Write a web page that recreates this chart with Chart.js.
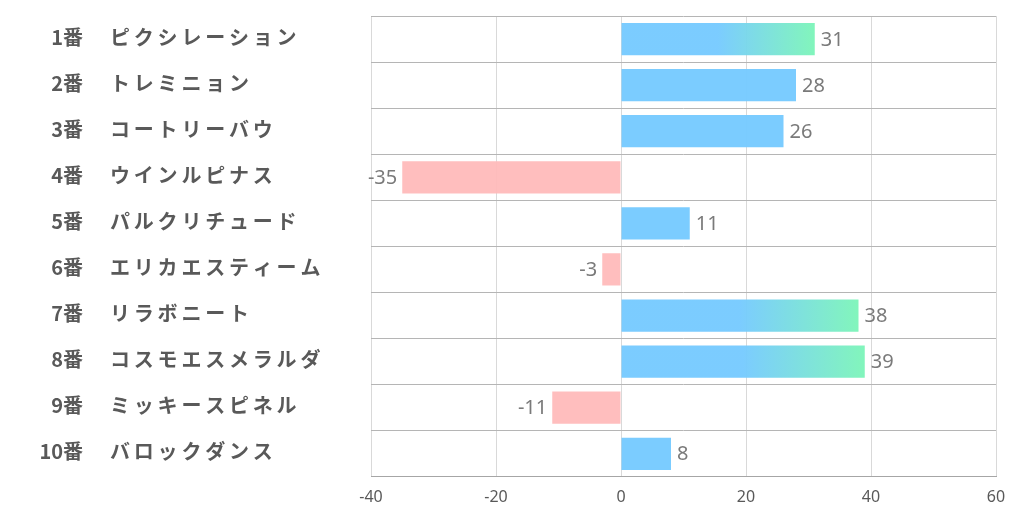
<!DOCTYPE html>
<html><head><meta charset="utf-8">
<script src="https://cdn.jsdelivr.net/npm/chart.js@4.4.1/dist/chart.umd.min.js"></script>
<style>html,body{margin:0;padding:0;background:#fff}#wrap{width:1022px;height:522px}</style>
</head><body><div id="wrap"><canvas id="c" width="1022" height="522"></canvas></div>
<script>
const numbers = ['1番','2番','3番','4番','5番','6番','7番','8番','9番','10番'];
const names = ['ピクシレーション','トレミニョン','コートリーバウ','ウインルピナス','パルクリチュード','エリカエスティーム','リラボニート','コスモエスメラルダ','ミッキースピネル','バロックダンス'];
const values = [31,28,26,-35,11,-3,38,39,-11,8];
const xTicks = [-40,-20,0,20,40,60];

const BLUE = 'rgba(118,202,255,0.96)';
const GREEN = 'rgba(125,245,185,0.96)';
const PINK = 'rgba(255,186,186,0.95)';

function barColor(ctx){
  const v = values[ctx.dataIndex];
  if (v < 0) return PINK;
  if (v < 30) return BLUE;
  const chart = ctx.chart;
  const xs = chart.scales.x;
  if (!chart.chartArea || !xs) return BLUE;
  const x0 = xs.getPixelForValue(v*0.5);
  const x1 = xs.getPixelForValue(v);
  const g = chart.ctx.createLinearGradient(x0,0,x1,0);
  g.addColorStop(0,BLUE);
  g.addColorStop(1,GREEN);
  return g;
}

const labelPlugin = {
  id:'labels',
  afterDatasetsDraw(chart){
    const ctx = chart.ctx;
    const meta = chart.getDatasetMeta(0);
    ctx.save();
    ctx.font = '20px "Noto Sans", "Open Sans", sans-serif';
    ctx.fillStyle = '#7a7a7a';
    ctx.textBaseline = 'middle';
    meta.data.forEach((el,i)=>{
      const v = values[i];
      if (v >= 0){ ctx.textAlign='left'; ctx.fillText(String(v), el.x+6, el.y+1); }
      else { ctx.textAlign='right'; ctx.fillText(String(v), el.x-5, el.y+1); }
    });
    ctx.restore();
  },
  afterDraw(chart){
    const ctx = chart.ctx;
    const ys = chart.scales.y;
    ctx.save();
    ctx.fillStyle = '#595959';
    ctx.textBaseline = 'middle';
    ctx.font = 'bold 20px "Noto Sans CJK JP", sans-serif';
    numbers.forEach((n,i)=>{
      const y = ys.getPixelForValue(i) - 2;
      ctx.letterSpacing = '0px';
      ctx.textAlign = 'right';
      ctx.fillText(n, 83, y);
      ctx.textAlign = 'left';
      ctx.letterSpacing = '3.8px';
      ctx.fillText(names[i], 110, y);
    });
    ctx.restore();
  }
};

new Chart(document.getElementById('c'),{
  type:'bar',
  data:{
    labels: numbers.map((n,i)=>n+'　'+names[i]),
    datasets:[{data:values, backgroundColor:barColor, barPercentage:0.7, categoryPercentage:1.0, borderWidth:0}]
  },
  options:{
    indexAxis:'y',
    responsive:false,
    animation:false,
    layout:{padding:{left:371,right:26,top:16,bottom:4}},
    plugins:{legend:{display:false},tooltip:{enabled:false}},
    scales:{
      x:{
        min:-40,max:60,
        afterBuildTicks(s){ s.ticks = xTicks.map(v=>({value:v})); },
        grid:{color:'#d9d9d9',drawTicks:false,lineWidth:1},
        border:{display:true,color:'#a6a6a6',width:1},
        ticks:{padding:11,color:'#595959',font:{family:'"Noto Sans", sans-serif',size:16}}
      },
      y:{
        grid:{offset:true,color:'#b5b5b5',drawTicks:false,lineWidth:1},
        border:{display:false},
        ticks:{display:false}
      }
    }
  },
  plugins:[labelPlugin]
});
</script></body></html>
